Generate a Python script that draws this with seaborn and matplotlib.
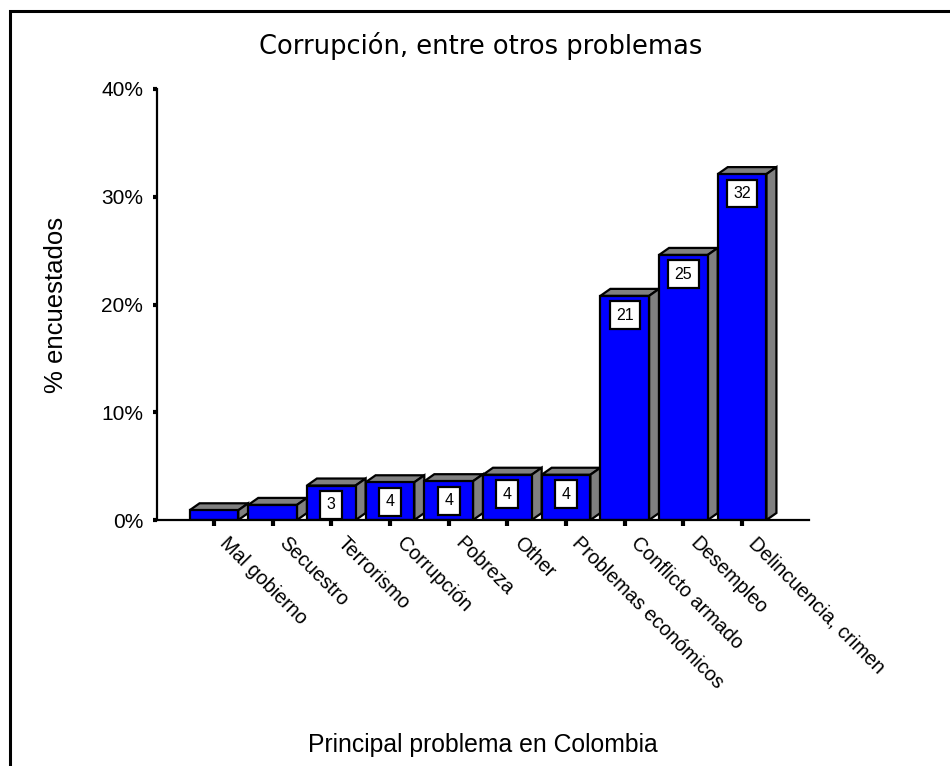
import matplotlib
matplotlib.use("Agg")
import matplotlib.pyplot as plt
import matplotlib.transforms as mtransforms
from matplotlib.patches import Polygon, Rectangle
import seaborn as sns

# datos
categorias = ["Mal gobierno", "Secuestro", "Terrorismo", "Corrupción", "Pobreza", "Other",
              "Problemas económicos", "Conflicto armado", "Desempleo", "Delincuencia, crimen"]
porcentajes = [0.9, 1.4, 3.2, 3.5, 3.6, 4.2, 4.2, 20.8, 24.6, 32.1]
etiquetas_barras = ["", "", "3", "4", "4", "4", "4", "21", "25", "32"]
y_ticks = [0, 10, 20, 30, 40]
y_tick_labels = ["0%", "10%", "20%", "30%", "40%"]

sns.set_style("white")
plt.rcParams['font.family'] = ['Liberation Sans', 'DejaVu Sans']
for k in ["text.color", "axes.labelcolor", "xtick.color", "ytick.color"]:
    plt.rcParams[k] = "black"

fig = plt.figure(figsize=(9.5, 7.66), dpi=100)
ax = fig.add_axes([157 / 950, 1 - 520 / 766, 652 / 950, 431 / 766])

sns.barplot(x=categorias, y=porcentajes, color="#0000FF", saturation=1,
            edgecolor="black", linewidth=1.6, width=0.83, ax=ax, zorder=3)

# efecto 3D: cara superior y lateral en gris
dx, dy = 0.17, 0.65
for p in ax.patches:
    x0 = p.get_x()
    x1 = x0 + p.get_width()
    h = p.get_height()
    top = Polygon([(x0, h), (x0 + dx, h + dy), (x1 + dx, h + dy), (x1, h)],
                  closed=True, fc="#808080", ec="black", lw=1.6, zorder=2)
    side = Polygon([(x1, 0), (x1, h), (x1 + dx, h + dy), (x1 + dx, dy)],
                   closed=True, fc="#808080", ec="black", lw=1.6, zorder=2)
    ax.add_patch(top)
    ax.add_patch(side)

# etiquetas de valor
for p, txt in zip(ax.patches, etiquetas_barras):
    if txt == "":
        continue
    ax.annotate(txt, (p.get_x() + p.get_width() / 2, p.get_height()),
                xytext=(0, -14), textcoords="offset points",
                ha="center", va="center", fontsize=11.5, zorder=5,
                bbox=dict(boxstyle="square,pad=0.4", fc="white", ec="black", lw=1.6))

ax.set_xlim(-0.97, 10.14)
ax.set_ylim(0, 40)
ax.set_yticks(y_ticks)
ax.set_yticklabels(y_tick_labels)

for s in ["top", "right"]:
    ax.spines[s].set_visible(False)
for s in ["left", "bottom"]:
    ax.spines[s].set_linewidth(1.6)
    ax.spines[s].set_color("black")
    ax.spines[s].set_zorder(6)

ax.tick_params(axis="y", length=3, width=3, pad=7, labelsize=15, left=True)
ax.tick_params(axis="x", length=4.5, width=3, pad=5, labelsize=14.2, bottom=True)
ax.set_xticks(range(len(categorias)))
ax.set_xticklabels(categorias, rotation=-45, ha="left", va="top", rotation_mode="anchor")
desplaz = mtransforms.ScaledTranslation(16 / 100, 0, fig.dpi_scale_trans)
for lab in ax.get_xticklabels():
    lab.set_transform(lab.get_transform() + desplaz)

ax.set_ylabel("% encuestados", fontsize=18.5)
ax.yaxis.set_label_coords(-0.136, 0.5)
ax.set_xlabel("Principal problema en Colombia", fontsize=17.8)
ax.xaxis.set_label_coords(0.5, -0.522)
ax.xaxis.label.set_va("center")

fig.text(481 / 950, 1 - 46 / 766, "Corrupción, entre otros problemas",
         ha="center", va="center", fontsize=18.5, family=["DejaVu Sans"])

# marco exterior
fig.patches.append(Rectangle((10 / 950, -0.2), 1.5, 1 - 11 / 766 + 0.2, transform=fig.transFigure,
                             fill=False, ec="black", lw=2.2))

plt.savefig("out.png", dpi=100)
